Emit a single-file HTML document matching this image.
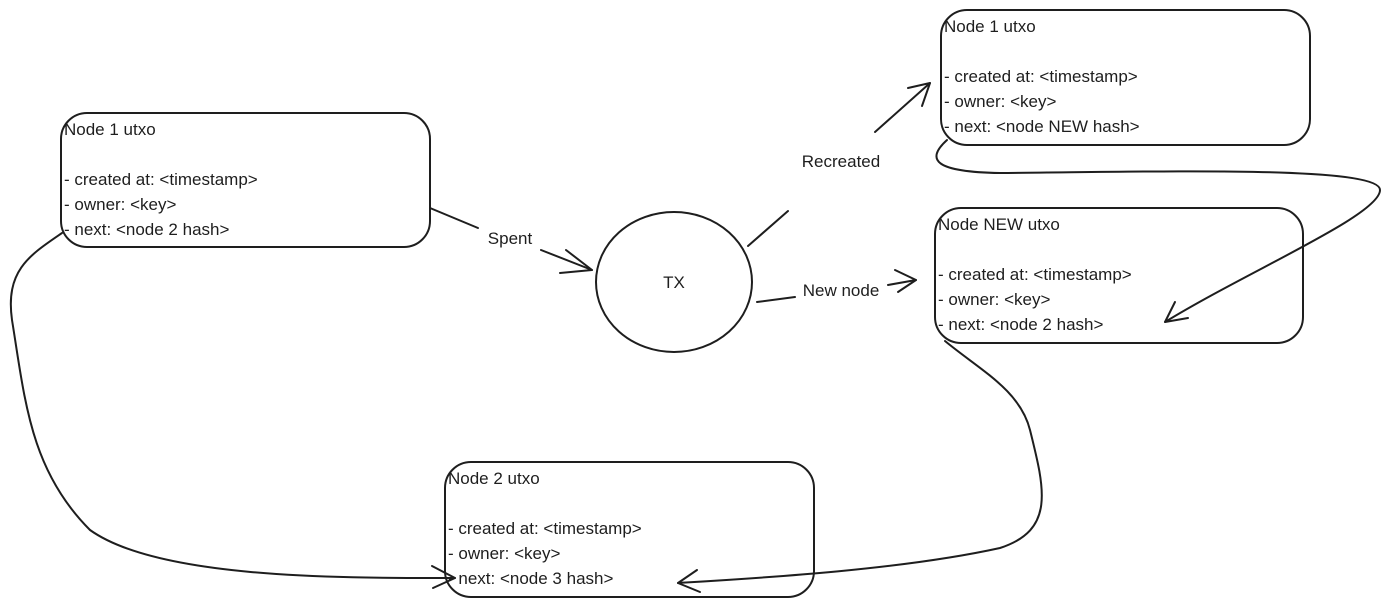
<!DOCTYPE html>
<html><head><meta charset="utf-8"><style>
html,body{margin:0;padding:0;background:#fff;}
svg{display:block}
text{font-family:"Liberation Sans",sans-serif;font-size:17px;fill:#1e1e1e}
</style></head><body>
<svg width="1391" height="607" viewBox="0 0 1391 607" xmlns="http://www.w3.org/2000/svg">
<g fill="none" stroke="#1e1e1e" stroke-width="2" stroke-linecap="round" stroke-linejoin="round">
<rect x="61" y="113" width="369" height="134" rx="26"/>
<rect x="941" y="10" width="369" height="135" rx="26"/>
<rect x="935" y="208" width="368" height="135" rx="26"/>
<rect x="445" y="462" width="369" height="135" rx="26"/>
<ellipse cx="674" cy="282" rx="78" ry="70"/>
<path d="M430 208 L478 228"/><path d="M541 250 L592 270"/>
<path d="M566 250 L592 270 L560 273"/>
<path d="M748 246 L788 211"/><path d="M875 132 L930 83"/>
<path d="M908 88 L930 83 L922 106"/>
<path d="M757 302 L795 297"/><path d="M888 285 L916 280"/>
<path d="M895 270 L916 280 L898 292"/>
<path d="M947 140 C925 160,935 172,1000 173 C1150 172,1380 165,1380 190 C1380 215,1250 270,1165 322"/>
<path d="M1175 302 L1165 322 L1188 318"/>
<path d="M945 341 C980 370,1020 390,1030 430 C1045 490,1055 530,1000 548 C900 570,760 578,678 583"/>
<path d="M697 570 L678 583 L700 592"/>
<path d="M62 233 C30 255,5 270,12 320 C25 400,30 470,90 530 C160 580,350 578,455 578"/>
<path d="M432 566 L455 578 L433 588"/>
</g>
<text x="64" y="135">Node 1 utxo</text>
<text x="64" y="185">- created at: &lt;timestamp&gt;</text>
<text x="64" y="210">- owner: &lt;key&gt;</text>
<text x="64" y="235">- next: &lt;node 2 hash&gt;</text>
<text x="944" y="32">Node 1 utxo</text>
<text x="944" y="82">- created at: &lt;timestamp&gt;</text>
<text x="944" y="107">- owner: &lt;key&gt;</text>
<text x="944" y="132">- next: &lt;node NEW hash&gt;</text>
<text x="938" y="230">Node NEW utxo</text>
<text x="938" y="280">- created at: &lt;timestamp&gt;</text>
<text x="938" y="305">- owner: &lt;key&gt;</text>
<text x="938" y="330">- next: &lt;node 2 hash&gt;</text>
<text x="448" y="484">Node 2 utxo</text>
<text x="448" y="534">- created at: &lt;timestamp&gt;</text>
<text x="448" y="559">- owner: &lt;key&gt;</text>
<text x="448" y="584">- next: &lt;node 3 hash&gt;</text>
<text x="674" y="288" text-anchor="middle">TX</text>
<text x="510" y="244" text-anchor="middle">Spent</text>
<text x="841" y="167" text-anchor="middle">Recreated</text>
<text x="841" y="296" text-anchor="middle">New node</text>
</svg>
</body></html>
